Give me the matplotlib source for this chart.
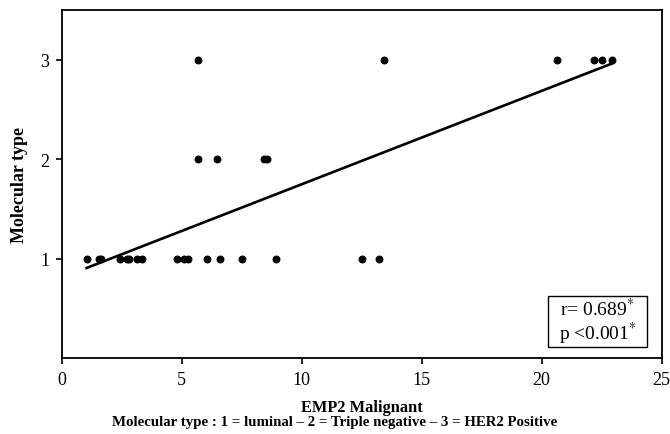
import numpy as np
import matplotlib
matplotlib.use("Agg")
import matplotlib.pyplot as plt
from matplotlib.patches import Rectangle

plt.rcParams['font.family'] = ['Liberation Serif', 'DejaVu Serif']
plt.rcParams['mathtext.fontset'] = 'stix'

# EMP2 malignant score per case, grouped by molecular type
emp2_luminal = [1.04, 1.55, 1.64, 2.43, 2.71, 2.80, 3.13, 3.33, 4.79, 5.10,
                5.25, 6.04, 6.60, 7.50, 8.93, 12.51, 13.22]
emp2_triple = [5.69, 6.48, 8.43, 8.54]
emp2_her2 = [5.67, 13.44, 20.63, 22.18, 22.53, 22.92]

x = np.array(emp2_luminal + emp2_triple + emp2_her2)
y = np.array([1] * len(emp2_luminal) + [2] * len(emp2_triple) + [3] * len(emp2_her2))

fig = plt.figure(figsize=(6.7, 4.35), dpi=100)
ax = fig.add_axes([0.092, 0.174, 0.8956, 0.8007])

ax.scatter(x, y, s=22, color='black', zorder=3)

slope, icpt = np.polyfit(x, y, 1)
xx = np.array([x.min(), x.max()])
ax.plot(xx, slope * xx + icpt, color='black', lw=1.9)

ax.set_xlim(0, 25)
ax.set_ylim(0, 3.5)
ax.set_xticks([0, 5, 10, 15, 20, 25])
ax.set_yticks([1, 2, 3])
ax.tick_params(direction='out', length=4, width=1.2, labelsize=13, pad=5)
for s in ax.spines.values():
    s.set_linewidth(1.3)

ax.set_ylabel('Molecular type', fontsize=13, fontweight='bold', labelpad=9)
fig.text(0.5398, 0.053, 'EMP2 Malignant', ha='center', va='baseline',
         fontsize=11.8, fontweight='bold')
fig.text(0.5, 0.021, 'Molecular type : 1 = luminal \u2013 2 = Triple negative \u2013 3 = HER2 Positive',
         ha='center', va='baseline', fontsize=10.7, fontweight='bold')

# stats box
ax.add_patch(Rectangle((0.8105, 0.0324), 0.165, 0.1464, transform=ax.transAxes,
                       facecolor='white', edgecolor='black', lw=1.0, zorder=4))
ax.text(0.893, 0.1057, 'r= 0.689$^{*}$\np <0.001$^{*}$', transform=ax.transAxes,
        ha='center', va='center', fontsize=14, linespacing=1.05, zorder=5)

fig.savefig('out.png', dpi=100)
